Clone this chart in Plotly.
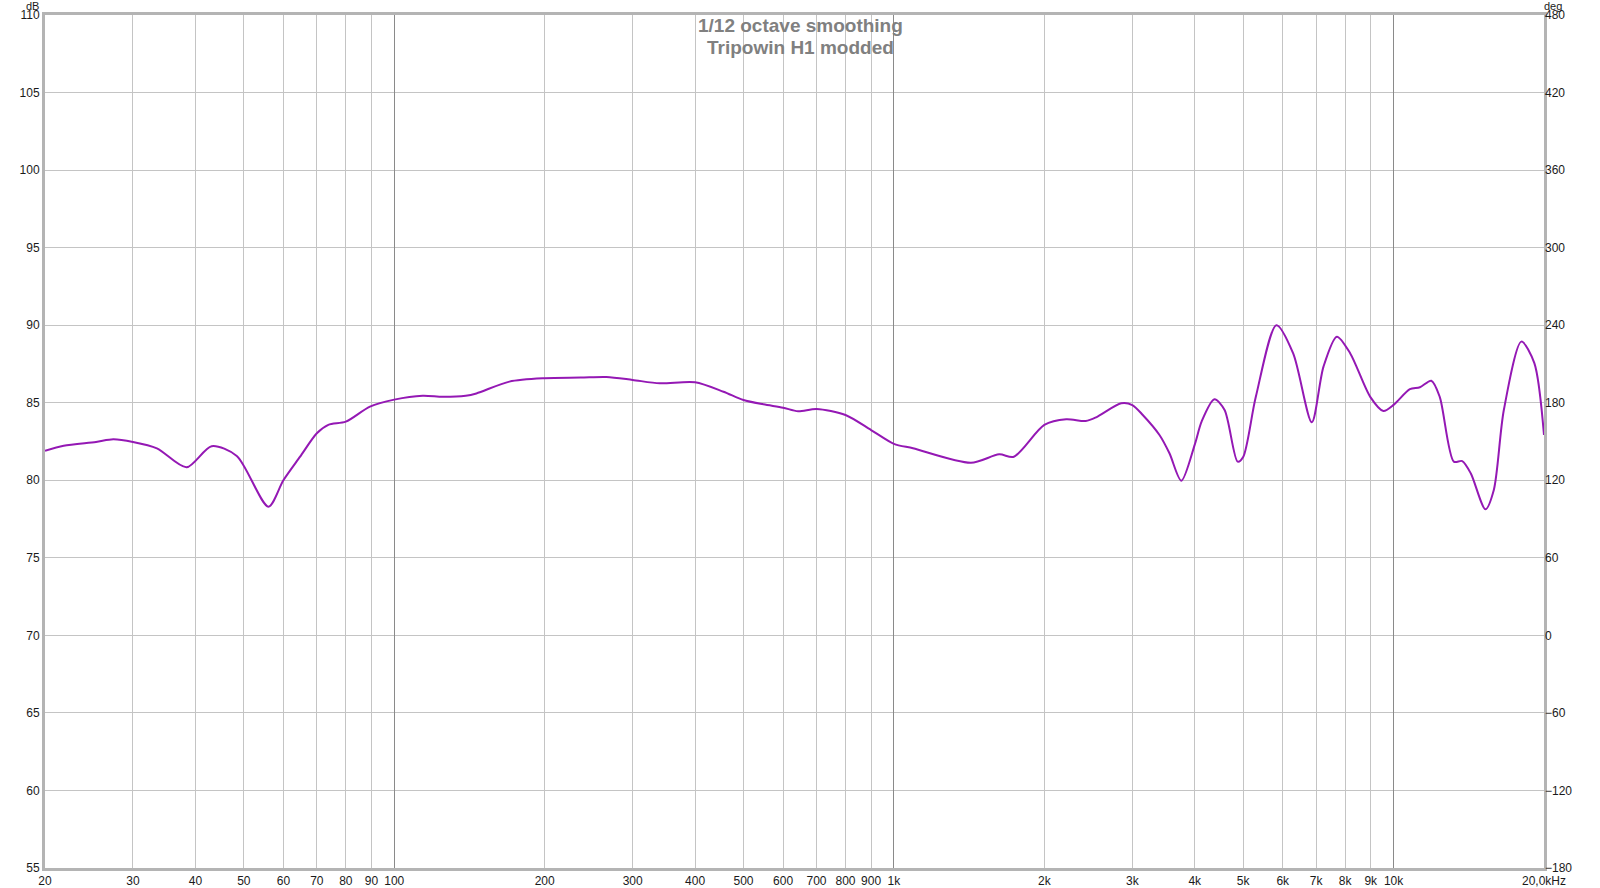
import plotly.graph_objects as go

# Frequency response
freq_hz = [20, 21.8, 25.3, 27.4, 30, 33.5, 38.4, 43.1, 48.4, 56, 60, 64.8, 70, 73.8, 80, 89.4,
           100, 114, 125, 139, 146, 170, 200, 236, 266, 300, 340, 400, 456, 500, 548, 600,
           643, 700, 800, 900, 1000, 1092, 1426, 1624, 1738, 2000, 2212, 2420, 2540, 2850,
           3000, 3148, 3400, 3560, 3760, 4000, 4130, 4380, 4590, 4874, 5000, 5300, 5828,
           6296, 6860, 7240, 7700, 8190, 8980, 9540, 10000, 10780, 11290, 11900, 12370,
           13200, 13720, 14270, 15270, 15870, 16620, 18020, 19130, 20000]
spl_db = [81.9, 82.23, 82.47, 82.64, 82.47, 82.06, 80.84, 82.2, 81.57, 78.3, 80.0, 81.52,
          83.03, 83.57, 83.78, 84.75, 85.2, 85.45, 85.38, 85.45, 85.6, 86.36, 86.58, 86.62,
          86.66, 86.47, 86.25, 86.32, 85.71, 85.18, 84.9, 84.68, 84.45, 84.6, 84.21, 83.24,
          82.35, 82.06, 81.13, 81.67, 81.52, 83.57, 83.93, 83.82, 84.06, 84.96, 84.85, 84.21,
          82.92, 81.74, 79.97, 82.3, 83.8, 85.22, 84.53, 81.2, 81.5, 85.38, 90.0, 88.18,
          83.74, 87.33, 89.26, 88.18, 85.38, 84.47, 84.86, 85.87, 86.0, 86.42, 85.38, 81.2,
          81.24, 80.45, 78.13, 79.38, 84.53, 88.94, 87.55, 82.92]

x_tick_vals = [20, 30, 40, 50, 60, 70, 80, 90, 100, 200, 300, 400, 500, 600, 700, 800, 900,
               1000, 2000, 3000, 4000, 5000, 6000, 7000, 8000, 9000, 10000, 20000]
x_tick_text = ["20", "30", "40", "50", "60", "70", "80", "90", "100", "200", "300", "400",
               "500", "600", "700", "800", "900", "1k", "2k", "3k", "4k", "5k", "6k", "7k",
               "8k", "9k", "10k", "20,0kHz"]
decade_vals = [100, 1000, 10000]
db_range = [55, 110]
deg_range = [-180, 480]

title_lines = ["1/12 octave smoothing", "Tripowin H1 modded"]

FONT = "Liberation Sans, Arial, sans-serif"
LIGHT = "#c4c4c4"
DARK = "#8a8a8a"
FRAME = "#b4b4b4"
TXT = "#1a1a1a"

fig = go.Figure()
fig.add_trace(go.Scatter(
    x=freq_hz, y=spl_db, mode="lines",
    line=dict(color="#9418b4", width=2, shape="spline", smoothing=0.8),
    showlegend=False, hoverinfo="x+y",
))

fig.update_layout(
    width=1600, height=888,
    margin=dict(l=45, r=56, t=15, b=20, autoexpand=False),
    paper_bgcolor="white", plot_bgcolor="white",
    font=dict(family=FONT, size=12, color=TXT),
    xaxis=dict(
        type="log", range=[1.30103, 4.30103], automargin=False,
        tickmode="array", tickvals=x_tick_vals, ticktext=x_tick_text,
        showgrid=True, gridcolor=LIGHT, gridwidth=1,
        showline=True, linecolor=FRAME, linewidth=3, mirror=True,
        ticks="", zeroline=False, tickfont=dict(size=12, color=TXT),
    ),
    xaxis2=dict(
        type="log", range=[1.30103, 4.30103], overlaying="x", automargin=False,
        tickmode="array", tickvals=decade_vals, showticklabels=False,
        showgrid=True, gridcolor=DARK, gridwidth=1, ticks="",
        showline=False, zeroline=False,
    ),
    yaxis=dict(
        range=db_range, dtick=5, tick0=55, automargin=False,
        showgrid=True, gridcolor=LIGHT, gridwidth=1,
        showline=True, linecolor=FRAME, linewidth=3, mirror=True,
        ticks="", zeroline=False, tickfont=dict(size=12, color=TXT),
    ),
    yaxis2=dict(
        range=deg_range, dtick=60, tick0=-180, overlaying="y", side="right",
        automargin=False, showgrid=False, zeroline=False, ticks="", showline=False,
        tickfont=dict(size=12, color=TXT),
    ),
)

# invisible traces so secondary axes are drawn
fig.add_trace(go.Scatter(x=[None], y=[None], xaxis="x2", yaxis="y", showlegend=False))
fig.add_trace(go.Scatter(x=[None], y=[None], xaxis="x", yaxis="y2", showlegend=False))

for line_text, ypos in zip(title_lines, [0.9882, 0.9624]):
    fig.add_annotation(
        x=0.5037, y=ypos, xref="paper", yref="paper", xanchor="center", yanchor="middle",
        showarrow=False, text="<b>" + line_text + "</b>",
        font=dict(family=FONT, size=19, color="#808080"),
    )
fig.add_annotation(x=0, y=1, xref="paper", yref="paper", xanchor="right", yanchor="top",
                   xshift=-4, yshift=17, showarrow=False, text="dB",
                   font=dict(family=FONT, size=11, color=TXT))
fig.add_annotation(x=1, y=1, xref="paper", yref="paper", xanchor="left", yanchor="top",
                   xshift=-2, yshift=17, showarrow=False, text="deg",
                   font=dict(family=FONT, size=11, color=TXT))

fig.write_html(
    "out.html",
    config={"displayModeBar": False},
    post_script="document.body.style.margin='0';document.body.style.overflow='hidden';",
)
